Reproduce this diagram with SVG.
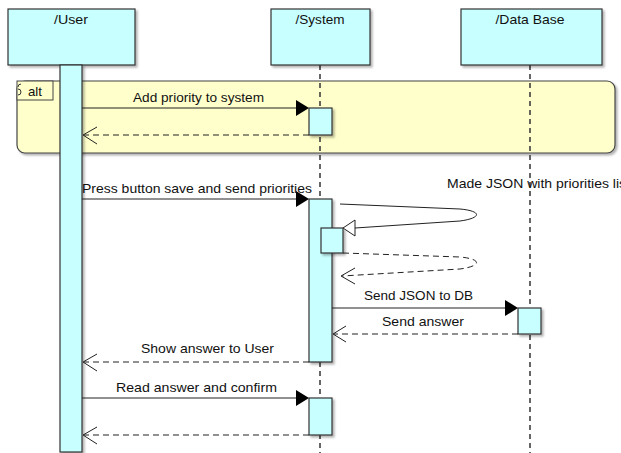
<svg xmlns="http://www.w3.org/2000/svg" width="621" height="453" viewBox="0 0 621 453">
  <style>
    text { font-family: "Liberation Sans", Arial, sans-serif; font-size: 13px; fill: #111; }
    .head { fill: #c8ffff; stroke: #333; stroke-width: 1.2; }
    .bar { fill: #c8ffff; stroke: #333; stroke-width: 1.2; }
    .life { stroke: #333; stroke-width: 1.5; stroke-dasharray: 5 4; fill: none; }
    .msg { stroke: #222; stroke-width: 1; fill: none; }
    .ret { stroke: #222; stroke-width: 1; fill: none; stroke-dasharray: 6 4; }
    .open { stroke: #222; stroke-width: 1; fill: none; }
    .frame { fill: #ffffcc; stroke: #444; stroke-width: 1.2; }
  </style>
  <defs>
    <filter id="shadow" x="-10%" y="-10%" width="130%" height="130%">
      <feDropShadow dx="2" dy="2" stdDeviation="0.8" flood-color="#000" flood-opacity="0.3"/>
    </filter>
  </defs>

  <rect width="621" height="453" fill="#ffffff"/>

  <!-- combined fragment -->
  <g id="alt-fragment">
    <rect class="frame" x="17" y="81" width="598" height="72" rx="8" ry="8" filter="url(#shadow)"/>
    <rect x="17" y="81" width="36" height="19" fill="#ffffcc" stroke="#444" stroke-width="1"/>
    <path d="M21,84 Q18,84 18,87 M18,89 Q21,89 21,92 Q21,95 18,95" stroke="#333" stroke-width="1" fill="none"/>
    <text x="28" y="96" textLength="14" lengthAdjust="spacingAndGlyphs">alt</text>
  </g>

  <!-- lifelines -->
  <g id="user">
    <rect class="head" x="8" y="9" width="127" height="56" filter="url(#shadow)"/>
    <text x="71" y="24" text-anchor="middle" textLength="34" lengthAdjust="spacingAndGlyphs">/User</text>
    <rect class="bar" x="60" y="65" width="22" height="387" filter="url(#shadow)"/>
  </g>

  <g id="system">
    <line class="life" x1="320" y1="65" x2="320" y2="453"/>
    <rect class="head" x="271" y="9" width="99" height="56" filter="url(#shadow)"/>
    <text x="320" y="24" text-anchor="middle" textLength="49" lengthAdjust="spacingAndGlyphs">/System</text>
    <rect class="bar" x="309" y="108" width="23" height="27" filter="url(#shadow)"/>
    <rect class="bar" x="309" y="199" width="23" height="163" filter="url(#shadow)"/>
    <rect class="bar" x="321" y="228" width="22" height="25" filter="url(#shadow)"/>
    <rect class="bar" x="309" y="398" width="23" height="37" filter="url(#shadow)"/>
  </g>

  <g id="database">
    <line class="life" x1="530" y1="65" x2="530" y2="453"/>
    <rect class="head" x="461" y="9" width="141" height="56" filter="url(#shadow)"/>
    <text x="530" y="24" text-anchor="middle" textLength="69" lengthAdjust="spacingAndGlyphs">/Data Base</text>
    <rect class="bar" x="518" y="308" width="23" height="26" filter="url(#shadow)"/>
  </g>

  <!-- messages -->
  <g id="connectors">
    <!-- Add priority to system -->
    <line class="msg" x1="82" y1="108" x2="300" y2="108"/>
    <polygon points="296,100 309,108 296,116" fill="#000"/>
    <text x="133" y="102" textLength="131" lengthAdjust="spacingAndGlyphs">Add priority to system</text>
    <line class="ret" x1="309" y1="135" x2="84" y2="135"/>
    <polyline class="open" points="97,127 83,135 97,144"/>

    <!-- Press button save and send priorities -->
    <line class="msg" x1="82" y1="199" x2="300" y2="199"/>
    <polygon points="296,191 309,199 296,207" fill="#000"/>
    <text x="82" y="193" textLength="230" lengthAdjust="spacingAndGlyphs">Press button save and send priorities</text>

    <!-- self call -->
    <path class="msg" d="M340,204 L460,209 C482,211 482,218 460,221 L355,228"/>
    <polygon points="343,228 355,220 355,236" fill="#fff" stroke="#222" stroke-width="1"/>
    <text x="447" y="188" textLength="183" lengthAdjust="spacingAndGlyphs">Made JSON with priorities list</text>
    <path class="ret" d="M343,253 L460,257 C482,259 482,266 460,269 L342,276"/>
    <polyline class="open" points="355,268 341,276 355,284"/>

    <!-- Send JSON to DB -->
    <line class="msg" x1="332" y1="308" x2="510" y2="308"/>
    <polygon points="505,300 518,308 505,316" fill="#000"/>
    <text x="364" y="300" textLength="109" lengthAdjust="spacingAndGlyphs">Send JSON to DB</text>

    <!-- Send answer -->
    <line class="ret" x1="518" y1="334" x2="334" y2="334"/>
    <polyline class="open" points="346,326 333,334 346,342"/>
    <text x="382" y="326" textLength="82" lengthAdjust="spacingAndGlyphs">Send answer</text>

    <!-- Show answer to User -->
    <line class="ret" x1="309" y1="362" x2="84" y2="362"/>
    <polyline class="open" points="97,354 83,362 97,371"/>
    <text x="141" y="353" textLength="133" lengthAdjust="spacingAndGlyphs">Show answer to User</text>

    <!-- Read answer and confirm -->
    <line class="msg" x1="82" y1="398" x2="300" y2="398"/>
    <polygon points="296,390 309,398 296,406" fill="#000"/>
    <text x="116" y="392" textLength="161" lengthAdjust="spacingAndGlyphs">Read answer and confirm</text>
    <line class="ret" x1="309" y1="435" x2="84" y2="435"/>
    <polyline class="open" points="97,427 83,435 97,444"/>
  </g>
</svg>
